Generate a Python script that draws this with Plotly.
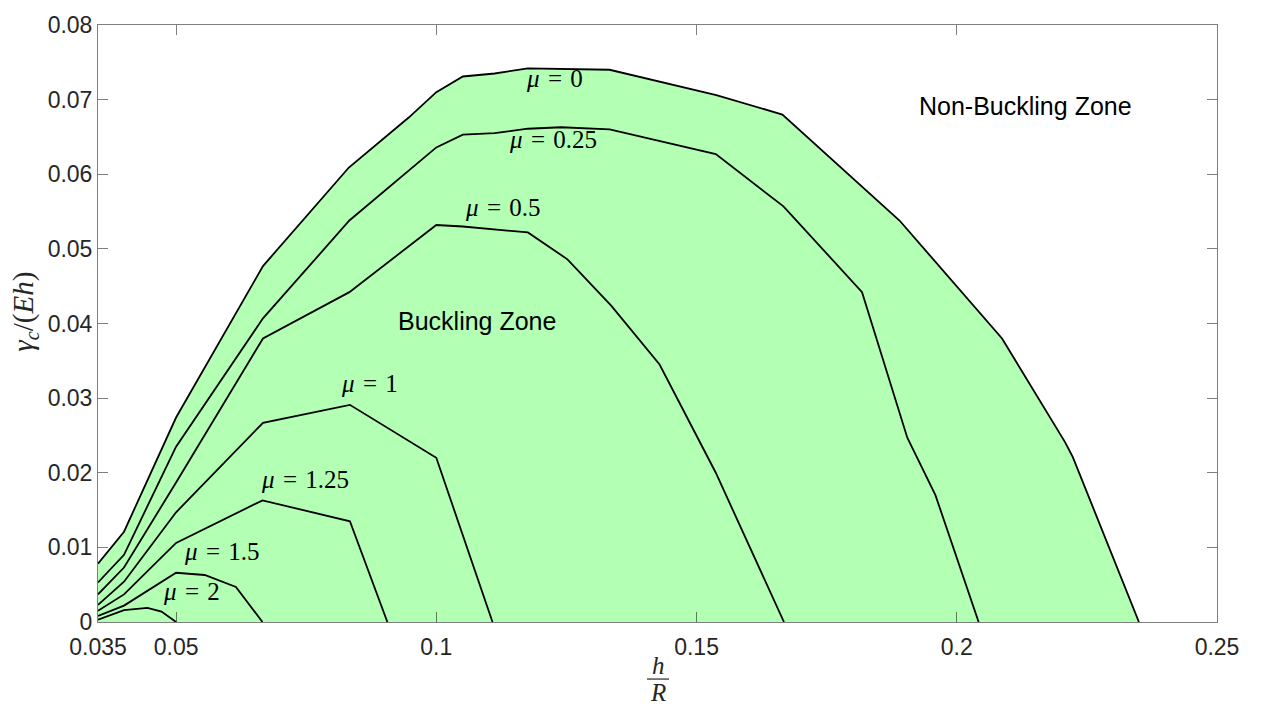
import plotly.graph_objects as go

# ---- data ----
x_mu0 = [0.035, 0.040, 0.050, 0.0667, 0.0832, 0.0947, 0.1000, 0.1051, 0.1112, 0.1176, 0.1333, 0.1538, 0.1665, 0.1890, 0.2087, 0.2208, 0.2223, 0.2350]
y_mu0 = [0.0078, 0.0121, 0.0274, 0.0477, 0.0609, 0.0676, 0.0710, 0.0731, 0.0735, 0.0742, 0.0740, 0.0706, 0.0680, 0.0538, 0.0380, 0.0241, 0.0221, 0.0]

x_mu025 = [0.035, 0.040, 0.050, 0.0667, 0.0833, 0.1000, 0.1051, 0.1112, 0.1176, 0.1240, 0.1333, 0.1537, 0.1667, 0.1818, 0.1905, 0.1959, 0.2042]
y_mu025 = [0.0053, 0.0090, 0.0235, 0.0407, 0.0538, 0.0636, 0.0653, 0.0655, 0.0661, 0.0663, 0.0660, 0.0627, 0.0557, 0.0442, 0.0247, 0.0170, 0.0]

x_mu05 = [0.035, 0.040, 0.050, 0.0667, 0.0833, 0.1000, 0.1051, 0.1122, 0.1176, 0.1252, 0.1336, 0.1429, 0.1537, 0.1668]
y_mu05 = [0.0037, 0.0073, 0.0187, 0.0380, 0.0442, 0.0532, 0.0530, 0.0525, 0.0522, 0.0486, 0.0424, 0.0345, 0.0200, 0.0]

x_mu1 = [0.035, 0.040, 0.050, 0.0667, 0.0834, 0.1000, 0.1108]
y_mu1 = [0.0023, 0.0054, 0.0147, 0.0267, 0.0291, 0.0220, 0.0]

x_mu125 = [0.035, 0.040, 0.050, 0.0666, 0.0834, 0.0906]
y_mu125 = [0.0015, 0.0037, 0.0106, 0.0163, 0.0135, 0.0]

x_mu15 = [0.035, 0.040, 0.050, 0.0555, 0.0615, 0.0666]
y_mu15 = [0.0008, 0.0022, 0.0066, 0.0063, 0.0047, 0.0]

x_mu2 = [0.035, 0.040, 0.0445, 0.0472, 0.050]
y_mu2 = [0.0003, 0.0016, 0.0019, 0.0014, 0.0]

curves = [
    ("0", x_mu0, y_mu0),
    ("0.25", x_mu025, y_mu025),
    ("0.5", x_mu05, y_mu05),
    ("1", x_mu1, y_mu1),
    ("1.25", x_mu125, y_mu125),
    ("1.5", x_mu15, y_mu15),
    ("2", x_mu2, y_mu2),
]

x_tickvals = [0.035, 0.05, 0.1, 0.15, 0.2, 0.25]
x_ticktext = ["0.035", "0.05", "0.1", "0.15", "0.2", "0.25"]
y_tickvals = [0, 0.01, 0.02, 0.03, 0.04, 0.05, 0.06, 0.07, 0.08]
y_ticktext = ["0", "0.01", "0.02", "0.03", "0.04", "0.05", "0.06", "0.07", "0.08"]

# label anchor positions (data coords) for each mu curve
label_pos = {
    "0": (0.1227, 0.0728),
    "0.25": (0.1225, 0.0646),
    "0.5": (0.1129, 0.0556),
    "1": (0.0872, 0.0320),
    "1.25": (0.0747, 0.0191),
    "1.5": (0.0588, 0.0094),
    "2": (0.0530, 0.0041),
}

fig = go.Figure()

# buckling zone fill (under the mu = 0 envelope)
fig.add_trace(go.Scatter(x=x_mu0, y=y_mu0, mode="lines", fill="tozeroy",
                         fillcolor="rgb(179,255,179)", line=dict(width=0),
                         hoverinfo="skip", showlegend=False))

for name, xs, ys in curves:
    fig.add_trace(go.Scatter(x=xs, y=ys, mode="lines",
                             line=dict(color="black", width=1.8),
                             name="μ = " + name, showlegend=False))

serif = "Liberation Serif, Times New Roman, serif"
sans = "Liberation Sans, Arial, Helvetica, sans-serif"

annotations = []
for name, xs, ys in curves:
    lx, ly = label_pos[name]
    annotations.append(dict(x=lx, y=ly, xref="x", yref="y",
                            text="<i>μ</i>\u2004=\u2004" + name, showarrow=False,
                            font=dict(family=serif, size=25, color="black"),
                            xanchor="center", yanchor="middle"))

annotations.append(dict(x=0.1079, y=0.0403, xref="x", yref="y", text="Buckling Zone",
                        showarrow=False, font=dict(family=sans, size=25, color="black"),
                        xanchor="center", yanchor="middle"))
annotations.append(dict(x=0.2133, y=0.0692, xref="x", yref="y", text="Non-Buckling Zone",
                        showarrow=False, font=dict(family=sans, size=25, color="black"),
                        xanchor="center", yanchor="middle"))

# y axis label
annotations.append(dict(x=-0.066, y=0.52, xref="paper", yref="paper",
                        text="<i>γ</i><sub><i>c</i></sub>/(<i>Eh</i>)", textangle=-90,
                        showarrow=False, font=dict(family=serif, size=29, color="#262626"),
                        xanchor="center", yanchor="middle"))
# x axis label as a fraction h / R
xc = (658 - 98) / 1119
annotations.append(dict(x=xc, y=-(666 - 622) / 607, xref="paper", yref="paper",
                        text="<i>h</i>", showarrow=False,
                        font=dict(family=serif, size=25, color="#262626"),
                        xanchor="center", yanchor="middle"))
annotations.append(dict(x=xc, y=-(694 - 622) / 607, xref="paper", yref="paper",
                        text="<i>R</i>", showarrow=False,
                        font=dict(family=serif, size=25, color="#262626"),
                        xanchor="center", yanchor="middle"))

shapes = [dict(type="line", xref="paper", yref="paper",
               x0=(647 - 98) / 1119, x1=(669 - 98) / 1119,
               y0=-(680 - 622) / 607, y1=-(680 - 622) / 607,
               line=dict(color="#262626", width=1.2))]

axis_line = "rgba(0,0,0,0.5)"
fig.update_layout(
    width=1262, height=709,
    margin=dict(l=98, r=45, t=15, b=87),
    paper_bgcolor="white", plot_bgcolor="white",
    annotations=annotations, shapes=shapes,
    xaxis=dict(range=[0.035, 0.25], tickvals=x_tickvals, ticktext=x_ticktext,
               showgrid=False, zeroline=False, showline=True, mirror="ticks",
               linecolor=axis_line, linewidth=1, ticks="inside", ticklen=10,
               tickcolor=axis_line, tickwidth=1, ticklabelstandoff=4,
               tickfont=dict(family=sans, size=23, color="#262626")),
    yaxis=dict(range=[0, 0.08], tickvals=y_tickvals, ticktext=y_ticktext,
               showgrid=False, zeroline=False, showline=True, mirror="ticks",
               linecolor=axis_line, linewidth=1, ticks="inside", ticklen=10,
               tickcolor=axis_line, tickwidth=1,
               tickfont=dict(family=sans, size=23, color="#262626")),
)

fig.write_html("out.html")
